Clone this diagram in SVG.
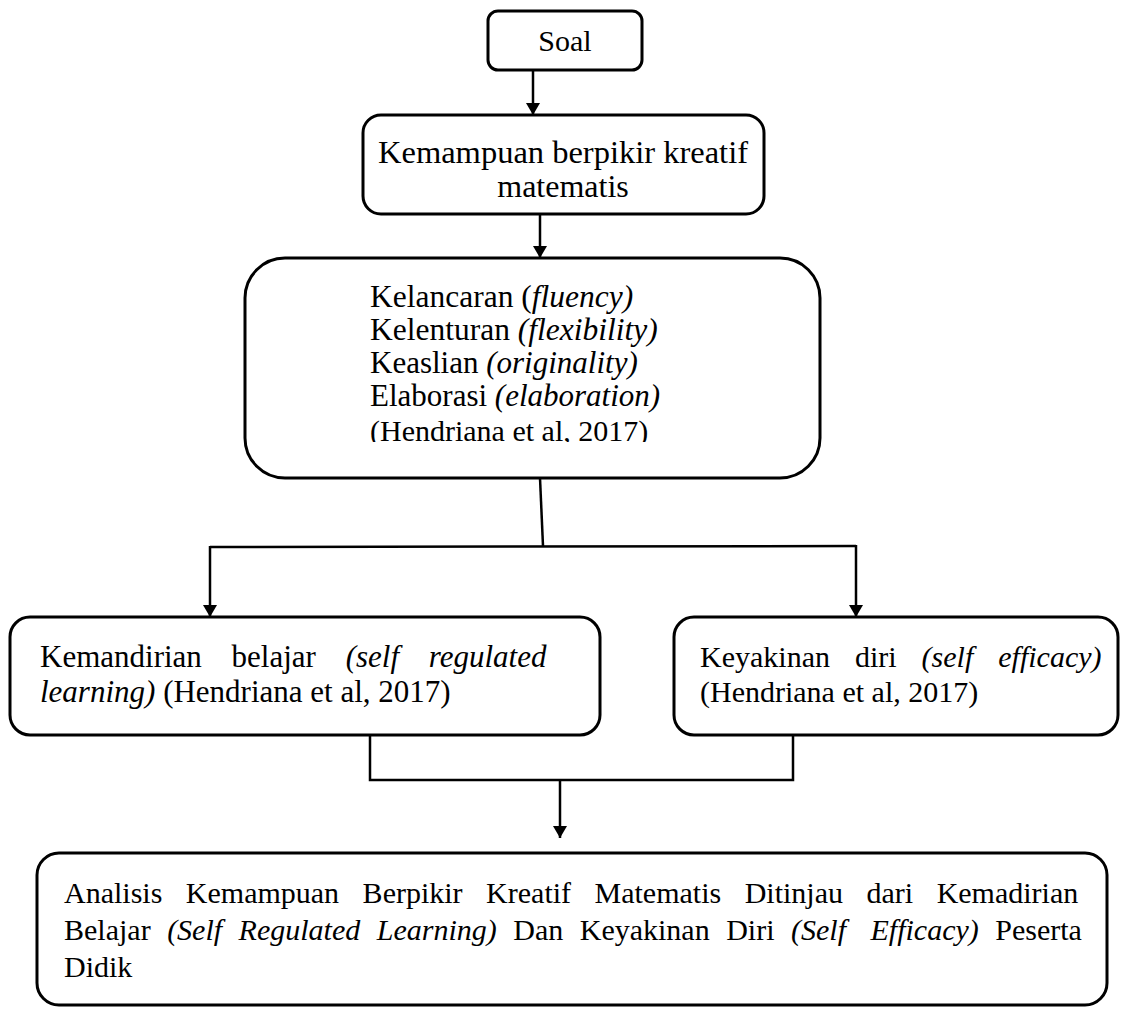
<svg xmlns="http://www.w3.org/2000/svg" width="1129" height="1009" viewBox="0 0 1129 1009">
<defs>
<marker id="ah" viewBox="0 0 12 14" refX="12" refY="7" markerWidth="12" markerHeight="14" markerUnits="userSpaceOnUse" orient="auto">
<path d="M0,0 L12,7 L0,14 Z" fill="#000"/>
</marker>
<clipPath id="c3"><rect x="245" y="258" width="575" height="184"/></clipPath>
</defs>
<style>
.box{fill:#fff;stroke:#000;stroke-width:3}
text{font-family:'Liberation Serif','Times New Roman',serif;font-size:30px;fill:#000}
.i{font-style:italic}
.ln{fill:none;stroke:#000;stroke-width:2.5}
</style>
<rect width="1129" height="1009" fill="#fff"/>
<g id="connectors">
<line class="ln" x1="533" y1="70" x2="533" y2="115" marker-end="url(#ah)"/>
<line class="ln" x1="540" y1="214" x2="540" y2="258" marker-end="url(#ah)"/>
<polyline class="ln" points="540,478 543,546"/>
<polyline class="ln" points="210,547 856,546"/>
<line class="ln" x1="210" y1="546" x2="210" y2="617" marker-end="url(#ah)"/>
<line class="ln" x1="856" y1="545" x2="856" y2="617" marker-end="url(#ah)"/>
<polyline class="ln" points="370,735 370,780 793,780 793,735"/>
<line class="ln" x1="560" y1="780" x2="560" y2="838" marker-end="url(#ah)"/>
</g>
<g id="soal">
<rect class="box" x="488" y="11" width="154" height="59" rx="10"/>
<text x="565" y="51" text-anchor="middle" style="font-size:30px">Soal</text>
</g>
<g id="kemampuan">
<rect class="box" x="363" y="115" width="401" height="99" rx="18"/>
<text x="563" y="163" text-anchor="middle" style="font-size:32.5px">Kemampuan berpikir kreatif</text>
<text x="563" y="197" text-anchor="middle" style="font-size:32px">matematis</text>
</g>
<g id="indikator">
<rect class="box" x="245" y="258" width="575" height="220" rx="40"/>
<g clip-path="url(#c3)">
<text x="370" y="307" style="font-size:31.5px">Kelancaran (<tspan class="i">fluency)</tspan></text>
<text x="370" y="340" style="font-size:31.5px">Kelenturan <tspan class="i">(flexibility)</tspan></text>
<text x="370" y="373" style="font-size:31px">Keaslian <tspan class="i">(originality)</tspan></text>
<text x="370" y="406" style="font-size:31px">Elaborasi <tspan class="i">(elaboration)</tspan></text>
<text x="370" y="441" style="font-size:30px">(Hendriana et al, 2017)</text>
</g>
</g>
<g id="kemandirian">
<rect class="box" x="10" y="617" width="590" height="118" rx="20"/>
<text x="40" y="667" word-spacing="22" style="font-size:31px">Kemandirian belajar <tspan class="i">(self regulated</tspan></text>
<text x="40" y="702" style="font-size:31px"><tspan class="i">learning)</tspan> (Hendriana et al, 2017)</text>
</g>
<g id="keyakinan">
<rect class="box" x="674" y="617" width="444" height="118" rx="20"/>
<text x="700" y="667" word-spacing="17.5">Keyakinan diri <tspan class="i">(self efficacy)</tspan></text>
<text x="700" y="702">(Hendriana et al, 2017)</text>
</g>
<g id="analisis">
<rect class="box" x="37" y="853" width="1070" height="152" rx="22"/>
<text x="64" y="903" word-spacing="16">Analisis Kemampuan Berpikir Kreatif Matematis Ditinjau dari Kemadirian</text>
<text x="64" y="940" word-spacing="9">Belajar <tspan class="i">(Self Regulated Learning)</tspan> Dan Keyakinan Diri <tspan class="i">(Self <tspan dx="8">Efficacy)</tspan></tspan> Peserta</text>
<text x="64" y="977">Didik</text>
</g>
</svg>
